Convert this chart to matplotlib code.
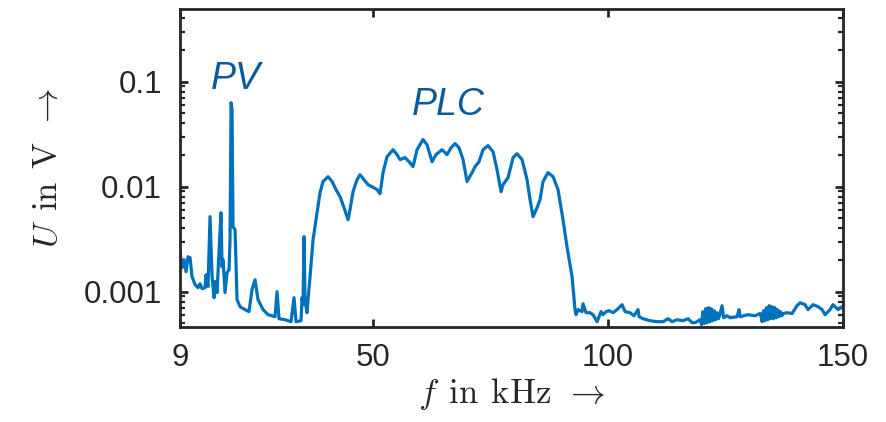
import matplotlib
matplotlib.use("Agg")
import matplotlib.pyplot as plt
from matplotlib.ticker import LogLocator, NullFormatter, FixedLocator

plt.rcParams['mathtext.fontset'] = 'cm'
plt.rcParams['font.family'] = ['Liberation Sans', 'DejaVu Sans']

# frequency in kHz
freq = [
    9.0, 9.43, 9.85, 10.28, 10.70, 11.13, 11.55, 12.19, 12.83, 13.25, 13.68, 14.32, 14.53, 14.95,
    15.38, 15.81, 16.23, 16.44, 16.87, 17.29, 17.72, 17.93, 18.15, 18.57, 19.0, 19.42, 19.63,
    19.85, 20.06, 20.27, 20.7, 21.12, 21.76, 22.82, 23.67, 24.31, 24.95, 25.59, 26.65, 27.72,
    29.2, 29.63, 30.05, 31.33, 32.61, 33.24, 33.67, 34.73, 34.95, 35.16, 35.37, 35.58, 36.0,
    36.22, 36.65, 37.29, 38.14, 38.77, 39.41, 40.48, 41.33, 42.18, 43.03, 43.88, 44.73, 45.15,
    45.79, 46.64, 47.28, 48.13, 48.98, 49.83, 50.9, 51.53, 52.17, 53.02, 54.30, 55.15, 55.79,
    56.85, 57.70, 58.55, 59.40, 60.68, 61.53, 62.6, 63.44, 64.72, 65.78, 66.63, 67.49, 68.34,
    69.19, 70.04, 71.1, 71.74, 72.59, 73.44, 74.5, 75.57, 76.42, 77.27, 77.69, 78.76, 79.82,
    80.67, 81.74, 82.8, 83.44, 84.07, 84.93, 85.56, 86.2, 87.26, 88.33, 89.39, 90.45, 91.3,
    92.37, 93.0, 93.22, 93.64, 94.49, 94.71, 95.35, 96.2, 96.83, 97.69, 98.54, 98.96, 99.6,
    100.24, 101.09, 101.94, 103.0, 103.64, 104.7, 105.55, 106.4, 106.62, 107.47, 108.96,
    110.45, 111.72, 112.79, 113.64, 114.7, 115.98, 117.04, 117.89, 118.53,
    119.6, 119.9, 120.2, 120.5, 120.8, 121.1, 121.4, 121.7, 122.0, 122.3, 122.6, 122.9,
    123.2, 123.5, 123.8, 124.27, 124.6,
    125.33, 125.97, 127.46, 127.89, 128.1, 129.8, 131.29, 132.35,
    132.5, 132.8, 133.1, 133.4, 133.7, 134.0, 134.3, 134.6, 134.9, 135.2, 135.5, 135.8,
    136.1, 136.4, 136.7, 137.0, 137.3,
    138.09, 139.16, 140.22, 140.86, 141.93, 142.56, 143.63, 144.69, 145.54, 146.18, 147.24,
    147.87, 148.94, 149.79, 150.0,
]

# voltage in V
volt = [
    0.0024, 0.00169, 0.00202, 0.00155, 0.00215, 0.00211, 0.00139, 0.00117, 0.00109, 0.00119,
    0.00107, 0.00109, 0.00145, 0.00112,
    0.00518, 0.00139, 0.000877, 0.00125, 0.00098, 0.0024, 0.00565, 0.00173, 0.00202, 0.00098,
    0.00152, 0.00162, 0.00313,
    0.0631, 0.0541, 0.00416, 0.00389, 0.000839, 0.00072, 0.000675, 0.000646, 0.00105, 0.0013,
    0.000839, 0.000675, 0.000604,
    0.000578, 0.0010, 0.000553, 0.000541, 0.000518, 0.000877, 0.000518, 0.000529, 0.000877,
    0.000752, 0.00334, 0.000839, 0.000631,
    0.000839, 0.00139, 0.00313, 0.00565, 0.00877, 0.0112, 0.01245, 0.0112, 0.00937, 0.00803,
    0.00631, 0.00485, 0.00604,
    0.00896, 0.01166, 0.0130, 0.01166, 0.01045, 0.0100, 0.00937, 0.00858, 0.0136, 0.0193,
    0.0225, 0.0202, 0.0181,
    0.0189, 0.0173, 0.0155, 0.0225, 0.0281, 0.0251, 0.0173, 0.0202, 0.0225, 0.0202, 0.0235,
    0.0257, 0.0235,
    0.0181, 0.0112, 0.0136, 0.0155, 0.0173, 0.0225, 0.0246, 0.0215, 0.0145, 0.00896, 0.01045,
    0.0122, 0.0189,
    0.0206, 0.0181, 0.01166, 0.00752, 0.00518, 0.00631, 0.00752, 0.0112, 0.0136, 0.01245,
    0.00937, 0.00485, 0.00268,
    0.00139, 0.000675, 0.000604, 0.000675, 0.000646, 0.000768, 0.000631, 0.000631, 0.000604,
    0.000518, 0.000646, 0.000604, 0.000646,
    0.00066, 0.000631, 0.000675, 0.000752, 0.000646, 0.000631, 0.00059, 0.000675, 0.000578,
    0.000553, 0.000529,
    0.000518, 0.000518, 0.000553, 0.000518, 0.000541, 0.000529, 0.000553, 0.000507, 0.000507,
    0.000541, 0.000485, 0.000646, 0.000497, 0.000690, 0.000505, 0.000705, 0.000518, 0.000690,
    0.000529, 0.000660, 0.000541,
    0.000631, 0.000553, 0.000604, 0.000736, 0.000565,
    0.00059, 0.000565, 0.000578, 0.000675, 0.000578, 0.000604, 0.00059, 0.00062,
    0.000604, 0.000518, 0.000660, 0.000529, 0.000705, 0.000541, 0.000736, 0.000553, 0.000720,
    0.000553, 0.000705, 0.000565,
    0.000675, 0.000578, 0.000646, 0.00059, 0.00062,
    0.000631, 0.00062, 0.000736, 0.000785, 0.000752, 0.000675, 0.000752, 0.00072, 0.000675,
    0.000604, 0.000675,
    0.000752, 0.000675, 0.00072, 0.000690,
]

x_ticks = [9, 50, 100, 150]
y_ticks = [0.001, 0.01, 0.1]
y_ticklabels = ['0.001', '0.01', '0.1']

line_color = '#0072BD'
text_color = '#0A5A9C'
axis_color = '#262626'

fig = plt.figure(figsize=(8.86, 4.22), dpi=100)
ax = fig.add_axes([0.2032, 0.2258, 0.7483, 0.7522])

ax.plot(freq, volt, color=line_color, lw=2.3)
ax.set_yscale('log')
ax.set_xlim(9, 150)
ax.set_ylim(4.64e-4, 0.489)

ax.xaxis.set_major_locator(FixedLocator(x_ticks))
ax.set_xticklabels([str(t) for t in x_ticks])
ax.set_yticks(y_ticks)
ax.set_yticklabels(y_ticklabels)
ax.yaxis.set_minor_locator(LogLocator(base=10, subs=range(2, 10), numticks=20))
ax.yaxis.set_minor_formatter(NullFormatter())

for s in ax.spines.values():
    s.set_linewidth(2.0)
    s.set_color(axis_color)

ax.tick_params(which='both', direction='in', top=True, right=True, color=axis_color,
               labelcolor=axis_color, labelsize=22.5)
ax.tick_params(which='major', length=6, width=2)
ax.tick_params(which='minor', length=3.5, width=1.6)
ax.tick_params(axis='x', pad=12)
ax.tick_params(axis='y', pad=13)

ax.set_xlabel(r'$f\;\,\mathrm{in}\;\,\mathrm{kHz}\;\,\rightarrow$', fontsize=25, color=axis_color,
              labelpad=2)
ax.set_ylabel(r'$U\;\,\mathrm{in}\;\,\mathrm{V}\;\,\rightarrow$', fontsize=25, color=axis_color,
              labelpad=14)

ax.text(15.6, 0.086, 'PV', fontsize=27, style='italic', color=text_color,
        ha='left', va='baseline')
ax.text(58.4, 0.0478, 'PLC', fontsize=27, style='italic', color=text_color,
        ha='left', va='baseline')

fig.savefig('out.png', dpi=100)
